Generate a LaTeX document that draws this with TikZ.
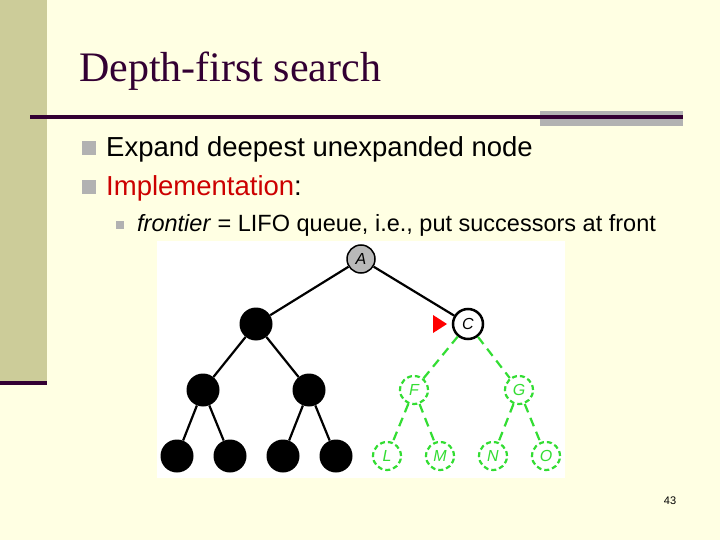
\documentclass[tikz,border=0pt]{standalone}
\usepackage{fontspec}
\setmainfont{Liberation Sans}
\newfontfamily\titlefont{Liberation Serif}
\definecolor{bg}{HTML}{FFFFE3}
\definecolor{bar}{HTML}{CCCC99}
\definecolor{dk}{HTML}{330033}
\definecolor{gbar}{HTML}{B2B2B2}
\definecolor{redt}{HTML}{CC0000}
\definecolor{gr}{HTML}{33DD33}
\begin{document}
\begin{tikzpicture}[x=1pt,y=-1pt,
  blk/.style={circle,fill=black,minimum size=33pt,inner sep=0},
  grn/.style={circle,draw=gr,dashed,dash pattern=on 5pt off 3pt,line width=2.2pt,minimum size=28pt,inner sep=0,text=gr,font=\itshape\fontsize{16}{18}\selectfont},
  edge/.style={line width=2.2pt},
  gedge/.style={draw=gr,dash pattern=on 9pt off 6pt,line width=2.2pt},
  bul/.style={fill=gbar}]
\useasboundingbox (0,0) rectangle (720,540);
\fill[bg] (0,0) rectangle (720,540);
\fill[bar] (0,0) rectangle (47,382);
\fill[dk] (0,381) rectangle (47,385);
\fill[gbar] (540,111) rectangle (683,126);
\fill[dk] (30,115.5) rectangle (683,119);
\node[anchor=base west,font=\titlefont\fontsize{42}{48}\selectfont,text=dk,inner sep=0] (title) at (79,82) {Depth-first search};
\fill[bul] (82,141) rectangle (96,155);
\node[anchor=base west,font=\fontsize{27.5}{32}\selectfont,inner sep=0] (b1) at (106,157) {Expand deepest unexpanded node};
\fill[bul] (82,180) rectangle (96,194);
\node[anchor=base west,font=\fontsize{27.5}{32}\selectfont,inner sep=0] (b2) at (106,196) {\textcolor{redt}{Implementation}:};
\fill[bul] (116,221) rectangle (124,229);
\node[anchor=base west,font=\fontsize{23.5}{28}\selectfont,inner sep=0] (b3) at (137,232) {\textit{frontier} = LIFO queue, i.e., put successors at front};
\fill[white] (157,241) rectangle (565,478);
\node[circle,draw=black,fill=gray!55,line width=1.5pt,minimum size=28pt,inner sep=0,font=\itshape\fontsize{16}{18}\selectfont] (A) at (361,259) {A};
\node[blk] (B) at (256,324) {};
\node[circle,draw=black,fill=white,line width=2.5pt,minimum size=30pt,inner sep=0,font=\itshape\fontsize{16}{18}\selectfont] (C) at (468,324) {C};
\node[blk] (D) at (203,390) {};
\node[blk] (E) at (309,390) {};
\node[grn] (F) at (414,390) {F};
\node[grn] (G) at (519,390) {G};
\node[blk] (H) at (177,456) {};
\node[blk] (I) at (230,456) {};
\node[blk] (J) at (283,456) {};
\node[blk] (K) at (336,456) {};
\node[grn] (L) at (387,456) {L};
\node[grn] (M) at (440,456) {M};
\node[grn] (N) at (493,456) {N};
\node[grn] (O) at (546,456) {O};
\draw[edge] (A)--(B); \draw[edge] (A)--(C);
\draw[edge] (B)--(D); \draw[edge] (B)--(E);
\draw[edge] (D)--(H); \draw[edge] (D)--(I);
\draw[edge] (E)--(J); \draw[edge] (E)--(K);
\draw[gedge] (C)--(F); \draw[gedge] (C)--(G);
\draw[gedge] (F)--(L); \draw[gedge] (F)--(M);
\draw[gedge] (G)--(N); \draw[gedge] (G)--(O);
\fill[red] (433,315) -- (447,324) -- (433,333) -- cycle;
\node[font=\fontsize{11}{13}\selectfont] (pg) at (670,501) {43};
\end{tikzpicture}
\end{document}
